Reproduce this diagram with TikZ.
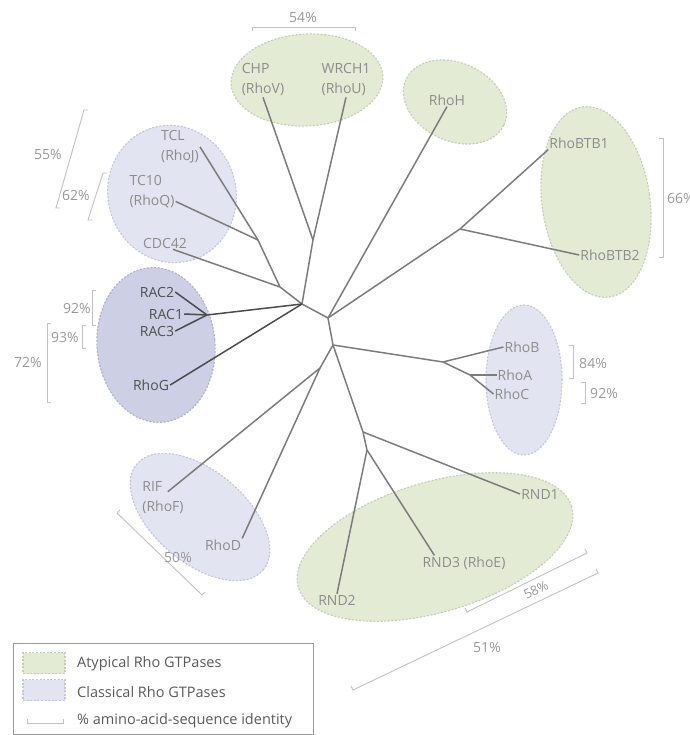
\documentclass[tikz,border=0pt]{standalone}
\usepackage{fontspec}
\setmainfont{Open Sans}
\usetikzlibrary{shapes.geometric}
\definecolor{atypfill}{HTML}{E4EBD5}
\definecolor{atypline}{HTML}{C6CDB6}
\definecolor{clasfill}{HTML}{E3E4F2}
\definecolor{clasline}{HTML}{C4C6D8}
\definecolor{racfill}{HTML}{CDCFE4}
\definecolor{racline}{HTML}{ADB0C8}
\definecolor{branchline}{HTML}{7C7C7C}
\definecolor{racbranch}{HTML}{4C4C4C}
\definecolor{lbltext}{HTML}{8C8C8C}
\definecolor{ractext}{HTML}{505050}
\definecolor{pcttext}{HTML}{9A9A9A}
\definecolor{barline}{HTML}{C2C2C2}
\definecolor{legtext}{HTML}{5A5A5A}
\tikzset{
  grp/.style={ellipse, inner sep=0pt, dash pattern=on 2pt off 1.6pt, line width=1.1pt},
  atyp/.style={grp, fill=atypfill, draw=atypline},
  clas/.style={grp, fill=clasfill, draw=clasline},
  racgrp/.style={grp, fill=racfill, draw=racline},
  lbl/.style={text=lbltext, inner sep=1pt, font=\fontsize{14}{20}\selectfont, align=left},
  raclbl/.style={lbl, text=ractext},
  pct/.style={text=pcttext, inner sep=1pt, font=\fontsize{14}{20}\selectfont},
  idbar/.style={draw=barline, line width=0.9pt},
  swatch/.style={rectangle, inner sep=0pt, minimum width=42pt, minimum height=21pt,
    dash pattern=on 2pt off 1.6pt, line width=1.1pt},
  legtxt/.style={text=legtext, inner sep=0pt, anchor=west, font=\fontsize{14.5}{18}\selectfont},
}

\begin{document}
\begin{tikzpicture}[x=1pt,y=-1pt]
   \useasboundingbox (0,0) rectangle (689,735);
   \node[atyp, minimum width=152pt, minimum height=92pt, rotate=3] (gchp) at (307,80) {};
   \node[atyp, minimum width=108pt, minimum height=78pt, rotate=-25] (grhoh) at (455,102) {};
   \node[atyp, minimum width=108pt, minimum height=192pt, rotate=8] (gbtb) at (596,202) {};
   \node[atyp, minimum width=285pt, minimum height=130pt, rotate=16.5] (grnd) at (435,547) {};
   \node[clas, minimum width=128pt, minimum height=138pt, rotate=15] (gcdc) at (172,194) {};
   \node[racgrp, minimum width=118pt, minimum height=155pt, rotate=5] (grac) at (156,345) {};
   \node[clas, minimum width=76pt, minimum height=150pt] (grho) at (524,380) {};
   \node[clas, minimum width=165pt, minimum height=92pt, rotate=-40] (grif) at (200,517) {};

   \begin{scope}[every node/.style={lbl}]
    \node (chp) at (263,80) {CHP\\(RhoV)};
    \node (wrch) at (346,80) {WRCH1\\(RhoU)};
    \node (rhoh) at (447,100) {RhoH};
    \node (btb1) at (579,143) {RhoBTB1};
    \node (btb2) at (610,255) {RhoBTB2};
    \node (rhob) at (522,347) {RhoB};
    \node (rhoa) at (515,375) {RhoA};
    \node (rhoc) at (512,394) {RhoC};
    \node (rnd1) at (540,494) {RND1};
    \node (rnd3) at (464,563) {RND3 (RhoE)};
    \node (rnd2) at (337,600) {RND2};
    \node (rif) at (163,498) {RIF\\(RhoF)};
    \node (rhod) at (223,545) {RhoD};
    \node (tcl) at (180,147) {TCL\\(RhoJ)};
    \node (tcq) at (152,192) {TC10\\(RhoQ)};
    \node (cdc) at (165,243) {CDC42};
   \end{scope}
   \begin{scope}[every node/.style={raclbl}]
    \node (rac2) at (157,292) {RAC2};
    \node (rac1) at (166,314) {RAC1};
    \node (rac3) at (157,331) {RAC3};
    \node (rhog) at (151,385) {RhoG};
   \end{scope}

   \coordinate (j1) at (302,304);
   \coordinate (j2) at (328,318);
   \coordinate (j3) at (333,345);
   \coordinate (jchp) at (313,240);
   \coordinate (jtc) at (258,240);
   \coordinate (jcdc) at (280,287);
   \coordinate (jrac) at (207,315);
   \coordinate (jbtb) at (460,229);
   \coordinate (jabc) at (443,362);
   \coordinate (jac) at (470,375);
   \coordinate (jrif) at (320,368);
   \coordinate (jrnd) at (363,432);
   \coordinate (jrnd23) at (367,450);

   \begin{scope}[every edge/.style={draw=branchline, line width=1.5pt}]
    \draw (jchp) edge (chp.south);
    \draw (jchp) edge (wrch.south);
    \draw (jchp) edge (j1);
    \draw (jtc) edge (tcl.east);
    \draw (jtc) edge ([yshift=8pt]tcq.south east);
    \draw (jtc) edge (jcdc);
    \draw (jcdc) edge ([xshift=8pt]cdc.south);
    \draw (jcdc) edge (j1);
    \draw (j1) edge (j2);
    \draw (j2) edge (rhoh.south);
    \draw (j2) edge (jbtb);
    \draw (jbtb) edge (btb1.south west);
    \draw (jbtb) edge (btb2.west);
    \draw (j2) edge (j3);
    \draw (j3) edge (jabc);
    \draw (jabc) edge (rhob.west);
    \draw (jabc) edge (jac);
    \draw (jac) edge (rhoa.west);
    \draw (jac) edge (rhoc.west);
    \draw (j3) edge (jrif);
    \draw (jrif) edge ([xshift=-17pt,yshift=-11pt]rif.north east);
    \draw (jrif) edge (rhod.north east);
    \draw (j3) edge (jrnd);
    \draw (jrnd) edge (rnd1.west);
    \draw (jrnd) edge (jrnd23);
    \draw (jrnd23) edge (rnd2.north);
    \draw (jrnd23) edge ([xshift=13pt]rnd3.north west);
   \end{scope}
   \begin{scope}[every edge/.style={draw=racbranch, line width=1.5pt}]
    \draw (jrac) edge (rac2.east);
    \draw (jrac) edge (rac1.east);
    \draw (jrac) edge (rac3.east);
    \draw (jrac) edge (j1);
    \draw (rhog.east) edge (j1);
   \end{scope}

   \draw[idbar] (252,31) -- (252,27) -- (355,27) -- (355,31);
   \draw[idbar] (659,138) -- (663,138) -- (663,257) -- (659,257);
   \draw[idbar] (569,345) -- (573,345) -- (573,378) -- (569,378);
   \draw[idbar] (581,382) -- (585,382) -- (585,403) -- (581,403);
   \draw[idbar] (88,110) -- (84,110) -- (56,208) -- (60,208);
   \draw[idbar] (107,173) -- (103,173) -- (88,220) -- (92,220);
   \draw[idbar] (96,290) -- (92,290) -- (92,325) -- (96,325);
   \draw[idbar] (86,325) -- (82,325) -- (82,348) -- (86,348);
   \draw[idbar] (51,323) -- (47,323) -- (47,402) -- (51,402);
   \draw[idbar] (120,510) -- (117,513) -- (202,595) -- (205,592);
   \draw[idbar] (585,549) -- (587,553) -- (467,612) -- (465,608);
   \draw[idbar] (596,569) -- (598,573) -- (353,690) -- (351,686);
   \begin{scope}[every node/.style={pct}]
    \node (p54) at (303,18) {54\%};
    \node[anchor=west] (p66) at (666,198) {66\%};
    \node (p84) at (593,363) {84\%};
    \node (p92r) at (604,393) {92\%};
    \node (p55) at (48,155) {55\%};
    \node (p62) at (76,195) {62\%};
    \node (p92l) at (77,308) {92\%};
    \node (p93) at (65,337) {93\%};
    \node (p72) at (28,362) {72\%};
    \node (p50) at (178,557) {50\%};
    \node[rotate=26, font=\fontsize{13}{16}\selectfont] (p58) at (536,590) {58\%};
    \node (p51) at (487,647) {51\%};
   \end{scope}

   \draw[draw=barline!80!black, line width=0.9pt] (13,643) rectangle (313,734);
   \node[swatch, fill=atypfill, draw=atypline] (swa) at (44,663) {};
   \node[swatch, fill=clasfill, draw=clasline] (swc) at (44,690) {};
   \draw[idbar] (27,719) -- (27,723) -- (63,723) -- (63,719);
   \node[legtxt] (lega) at (77,664) {Atypical Rho GTPases};
   \node[legtxt] (legc) at (77,692) {Classical Rho GTPases};
   \node[legtxt] (legi) at (77,721) {\% amino-acid-sequence identity};
\end{tikzpicture}
\end{document}
